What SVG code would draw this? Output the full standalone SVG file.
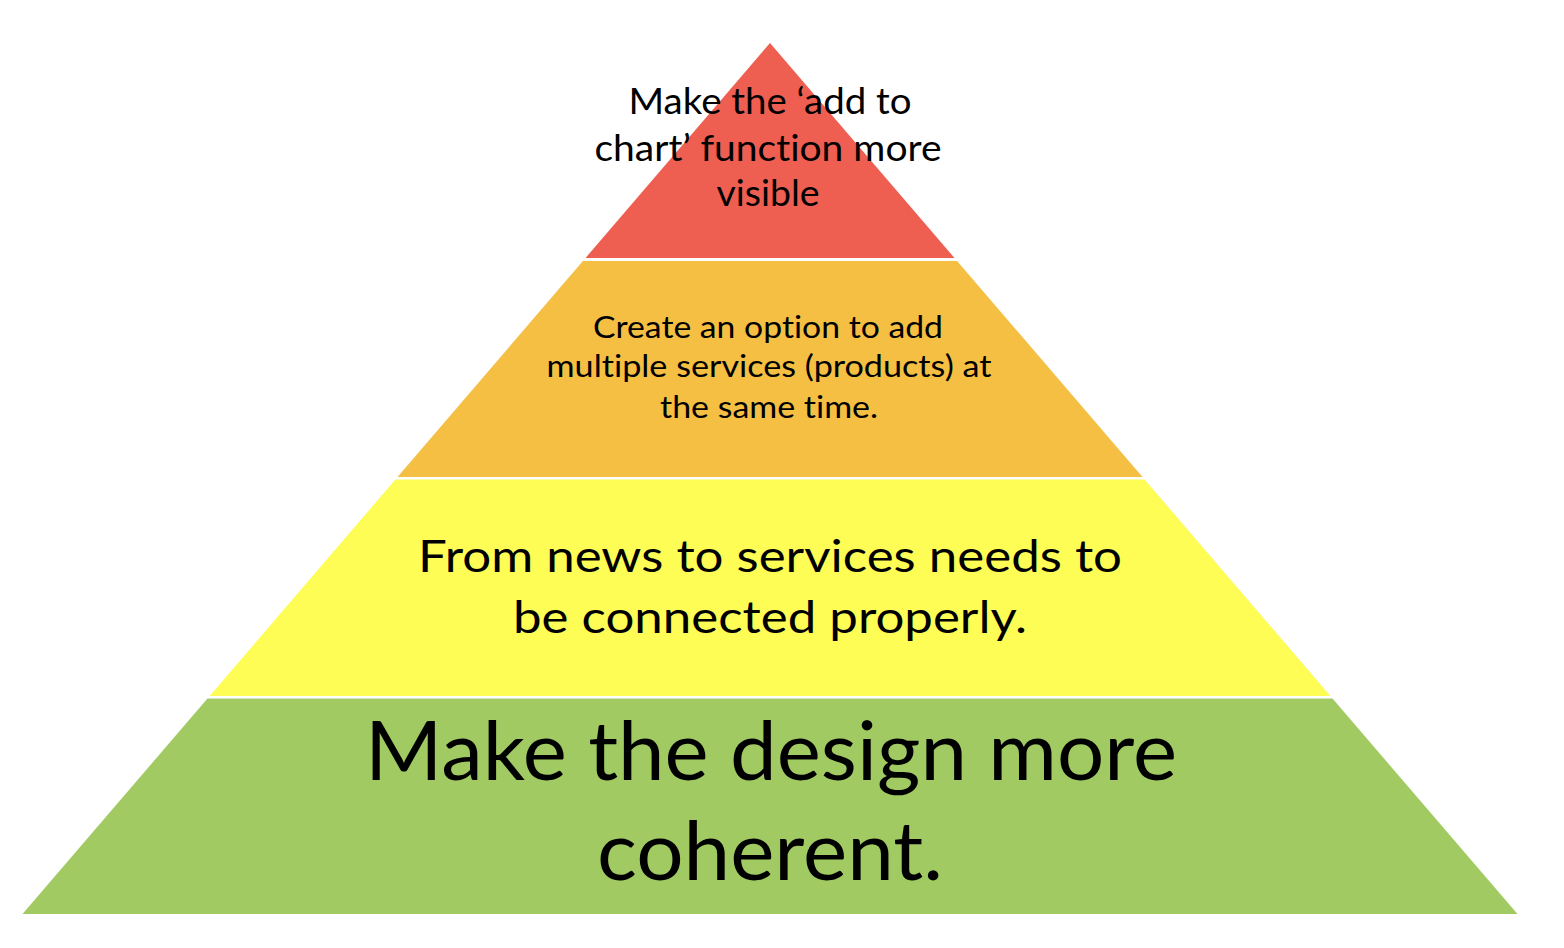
<svg xmlns="http://www.w3.org/2000/svg" width="1564" height="948" viewBox="0 0 1564 948">
  <style>
    .lbl { font-family: Lato, "Open Sans", "Liberation Sans", sans-serif; fill: #000000; text-anchor: middle; font-variant-ligatures: none; font-feature-settings: "liga" 0, "dlig" 0; }
    .layer { stroke: none; }
  </style>
  <rect x="0" y="0" width="1564" height="948" fill="#ffffff"/>
  <g id="level-top">
    <polygon class="layer" points="770,43 954.5,258 585.5,258" fill="#EE5E51"/>
    <text class="lbl" font-size="36" x="770" y="114" textLength="283" lengthAdjust="spacingAndGlyphs">Make the ‘add to</text>
    <text class="lbl" font-size="36" x="768" y="161" textLength="347" lengthAdjust="spacingAndGlyphs">chart’ function more</text>
    <text class="lbl" font-size="36" x="768" y="206" textLength="103" lengthAdjust="spacingAndGlyphs">visible</text>
  </g>
  <g id="level-2">
    <polygon class="layer" points="582.9,261 957.1,261 1142.5,477 397.5,477" fill="#F4BF42"/>
    <text class="lbl" font-size="30" x="768" y="338" textLength="350" lengthAdjust="spacingAndGlyphs">Create an option to add</text>
    <text class="lbl" font-size="30" x="769" y="377" textLength="445" lengthAdjust="spacingAndGlyphs">multiple services (products) at</text>
    <text class="lbl" font-size="30" x="769" y="418" textLength="218" lengthAdjust="spacingAndGlyphs">the same time.</text>
  </g>
  <g id="level-3">
    <polygon class="layer" points="395.4,479.5 1144.6,479.5 1330.4,696 209.6,696" fill="#FEFD55"/>
    <text class="lbl" font-size="44" x="770" y="572" textLength="704" lengthAdjust="spacingAndGlyphs">From news to services needs to</text>
    <text class="lbl" font-size="44" x="770" y="633" textLength="514" lengthAdjust="spacingAndGlyphs">be connected properly.</text>
  </g>
  <g id="level-base">
    <polygon class="layer" points="207.5,698.5 1332.5,698.5 1517.5,914 22.5,914" fill="#A1CB62"/>
    <text class="lbl" font-size="81" x="771" y="780" textLength="812" lengthAdjust="spacingAndGlyphs">Make the design more</text>
    <text class="lbl" font-size="81" x="770" y="880" textLength="346" lengthAdjust="spacingAndGlyphs">coherent.</text>
  </g>
  <g id="connectors"></g>
</svg>
